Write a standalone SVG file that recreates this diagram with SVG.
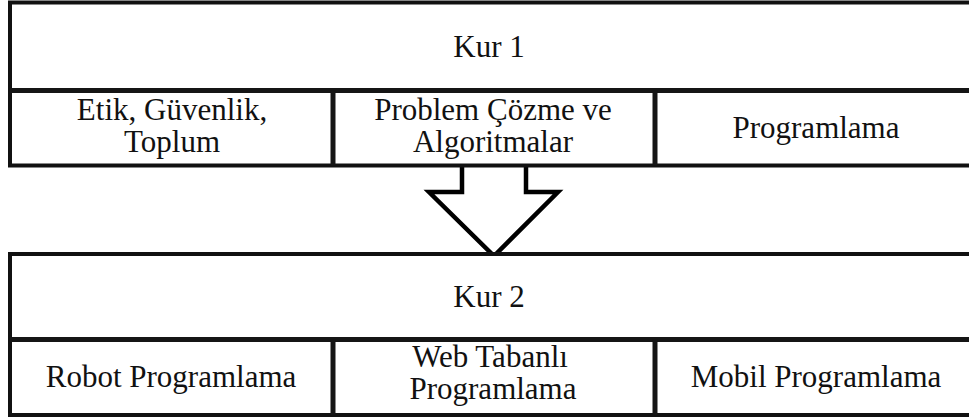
<svg xmlns="http://www.w3.org/2000/svg" width="969" height="420" viewBox="0 0 969 420">
  <style>
    .frame { fill: #ffffff; stroke: #111111; stroke-width: 4; }
    .rule { stroke: #151515; stroke-width: 5; fill: none; }
    .label { font-size: 31px; fill: #111111; text-anchor: middle; }
    .arrow { fill: #ffffff; stroke: #000000; stroke-width: 4.5; stroke-linejoin: miter; }
  </style>

  <!-- connector between the two levels -->
  <g id="connectors">
    <polyline class="arrow" points="462,166 462,192 429,192 494,256 558,192 526,192 526,166"/>
  </g>

  <g font-family="Liberation Serif, Times New Roman, serif">
    <!-- level 1 -->
    <g id="kur1">
      <rect class="frame" x="10" y="2.5" width="967" height="163"/>
      <line class="rule" x1="10" y1="90.5" x2="977" y2="90.5"/>
      <line class="rule" x1="333" y1="90.5" x2="333" y2="165.5"/>
      <line class="rule" x1="655" y1="90.5" x2="655" y2="165.5"/>
      <text class="label" x="489" y="57">Kur 1</text>
    </g>
    <g id="etik">
      <text class="label" x="172" y="120">Etik, Güvenlik,</text>
      <text class="label" x="172" y="152">Toplum</text>
    </g>
    <g id="problem-cozme">
      <text class="label" x="493" y="120">Problem Çözme ve</text>
      <text class="label" x="493" y="152">Algoritmalar</text>
    </g>
    <g id="programlama">
      <text class="label" x="816" y="138">Programlama</text>
    </g>

    <!-- level 2 -->
    <g id="kur2">
      <rect class="frame" x="10" y="254" width="967" height="161"/>
      <line class="rule" x1="10" y1="339.5" x2="977" y2="339.5"/>
      <line class="rule" x1="333" y1="339.5" x2="333" y2="415"/>
      <line class="rule" x1="655" y1="339.5" x2="655" y2="415"/>
      <text class="label" x="489" y="307">Kur 2</text>
    </g>
    <g id="robot">
      <text class="label" x="171" y="387">Robot Programlama</text>
    </g>
    <g id="web">
      <text class="label" x="490" y="367">Web Tabanlı</text>
      <text class="label" x="493" y="399">Programlama</text>
    </g>
    <g id="mobil">
      <text class="label" x="816" y="387">Mobil Programlama</text>
    </g>
  </g>
</svg>
